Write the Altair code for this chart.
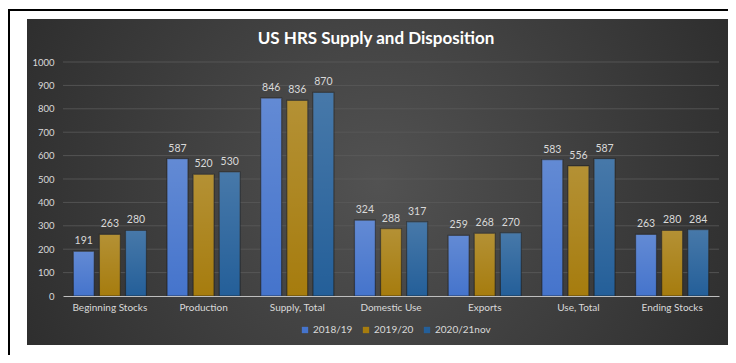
import altair as alt
import pandas as pd

categories = ["Beginning Stocks", "Production", "Supply, Total", "Domestic Use",
              "Exports", "Use, Total", "Ending Stocks"]
series_names = ["2018/19", "2019/20", "2020/21nov"]
s2018 = [191, 587, 846, 324, 259, 583, 263]
s2019 = [263, 520, 836, 288, 268, 556, 280]
s2020 = [280, 530, 870, 317, 270, 587, 284]
colors = ["#4574CC", "#A67C0E", "#245F99"]
y_ticks = list(range(0, 1001, 100))
title_text = "US HRS Supply and Disposition"

rows = []
for name, vals in zip(series_names, [s2018, s2019, s2020]):
    for c, v in zip(categories, vals):
        rows.append({"category": c, "series": name, "value": v})
df = pd.DataFrame(rows)

FONT = "Lato"
LABEL = "#d9d9d9"

W, H = 656, 234

one = pd.DataFrame({"t": [title_text]})

panel = alt.Chart(one).mark_rect(
    fill=alt.RadialGradient(
        gradient="radial",
        stops=[alt.GradientStop(color="#525252", offset=0),
               alt.GradientStop(color="#2b2b2b", offset=0.8),
               alt.GradientStop(color="#262626", offset=1)],
        x1=0.5, y1=0.5, r1=0, x2=0.5, y2=0.5, r2=0.75),
).encode(x=alt.value(-36), x2=alt.value(667), y=alt.value(-43), y2=alt.value(283))

frame_left = alt.Chart(one).mark_rule(color="#000", strokeWidth=2).encode(
    x=alt.value(-54), y=alt.value(-52), y2=alt.value(300))
frame_top = alt.Chart(one).mark_rule(color="#000", strokeWidth=2).encode(
    x=alt.value(-55), x2=alt.value(700), y=alt.value(-52))

title = alt.Chart(one).mark_text(
    color="white", fontSize=17, font=FONT, fontWeight="bold", baseline="middle", align="center"
).encode(x=alt.value(313), y=alt.value(-23), text="t:N")

yaxis = alt.Axis(title=None, values=y_ticks, format="d", labelOverlap=False,
                 domain=False, ticks=False, grid=False, labelColor=LABEL, zindex=1,
                 labelFontSize=9.5, labelFont=FONT, labelPadding=9)
yscale = alt.Scale(domain=[0, 1000], nice=False)

grid = alt.Chart(pd.DataFrame({"value": y_ticks[1:]})).mark_rule(
    color="#5a5a5a", strokeWidth=0.8
).encode(y=alt.Y("value:Q", scale=yscale, axis=yaxis))

xenc = alt.X("category:N", sort=categories,
             scale=alt.Scale(paddingInner=0.22, paddingOuter=0.11),
             axis=alt.Axis(title=None, labelAngle=0, ticks=False, domainColor="#bfbfbf",
                           labelColor=LABEL, labelFontSize=10, labelFont=FONT,
                           labelPadding=6, grid=False, zindex=1))
yenc = alt.Y("value:Q", scale=yscale, axis=yaxis)
xoff = alt.XOffset("series:N", sort=series_names, scale=alt.Scale(paddingInner=0.2))

base = alt.Chart(df)

bars = base.mark_bar(stroke="#1c1c1c", strokeWidth=1.2, strokeOpacity=0.6).encode(
    x=xenc, y=yenc, xOffset=xoff,
    color=alt.Color("series:N", sort=series_names,
                    scale=alt.Scale(domain=series_names, range=colors),
                    legend=alt.Legend(title=None, orient="none", direction="horizontal",
                                      legendX=237, legendY=263, symbolType="square",
                                      symbolSize=40, symbolStrokeWidth=0,
                                      labelColor=LABEL, labelFontSize=10, labelFont=FONT,
                                      columnPadding=8, labelOffset=3)),
)

overlay = base.mark_bar(
    color=alt.LinearGradient(
        gradient="linear",
        stops=[alt.GradientStop(color="rgba(255,255,255,0.16)", offset=0),
               alt.GradientStop(color="rgba(255,255,255,0)", offset=1)],
        x1=0, x2=0, y1=0, y2=1),
).encode(x=xenc, y=yenc, xOffset=xoff)

labels = base.mark_text(baseline="bottom", dy=-5, color=LABEL, fontSize=10.5, font=FONT).encode(
    x=xenc, y=yenc, xOffset=xoff, text=alt.Text("value:Q"))

chart = alt.layer(panel, frame_left, frame_top, title, grid, bars, overlay, labels).properties(
    width=W, height=H,
    background="white",
    autosize=alt.AutoSizeParams(type="none"),
    padding={"left": 55, "top": 54, "right": 9, "bottom": 59},
).configure_view(stroke=None)

chart.save("out.html", embed_options={"renderer": "svg", "actions": False})
